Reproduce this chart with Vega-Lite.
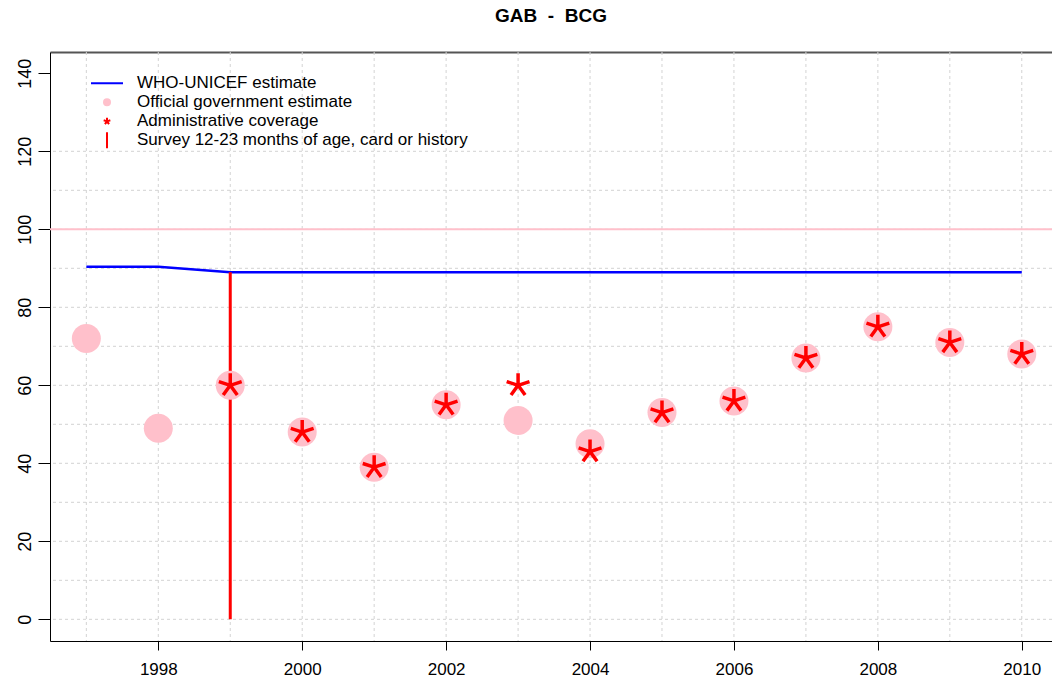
{
  "$schema": "https://vega.github.io/schema/vega-lite/v6.json",
  "width": 1002,
  "height": 589,
  "autosize": {"type": "none"},
  "padding": {"left": 50, "top": 52, "right": 0, "bottom": 39},
  "background": "white",
  "title": {"text": "GAB\u00a0\u00a0-\u00a0\u00a0BCG", "font": "Liberation Sans", "fontSize": 19, "fontWeight": "bold", "color": "black", "anchor": "middle", "frame": "group", "baseline": "alphabetic", "offset": 11},
  "config": {"view": {"stroke": null}, "font": "Liberation Sans"},
  "resolve": {"axis": {"x": "independent", "y": "independent"}},
  "datasets": {
    "xgrid": [{"year": 1997}, {"year": 1998}, {"year": 1999}, {"year": 2000}, {"year": 2001}, {"year": 2002}, {"year": 2003}, {"year": 2004}, {"year": 2005}, {"year": 2006}, {"year": 2007}, {"year": 2008}, {"year": 2009}, {"year": 2010}],
    "ygrid": [{"value": 0}, {"value": 10}, {"value": 20}, {"value": 30}, {"value": 40}, {"value": 50}, {"value": 60}, {"value": 70}, {"value": 80}, {"value": 90}, {"value": 100}, {"value": 110}, {"value": 120}],
    "who": [{"year": 1997, "value": 90.4}, {"year": 1998, "value": 90.4}, {"year": 1999, "value": 89}, {"year": 2000, "value": 89}, {"year": 2001, "value": 89}, {"year": 2002, "value": 89}, {"year": 2003, "value": 89}, {"year": 2004, "value": 89}, {"year": 2005, "value": 89}, {"year": 2006, "value": 89}, {"year": 2007, "value": 89}, {"year": 2008, "value": 89}, {"year": 2009, "value": 89}, {"year": 2010, "value": 89}],
    "official": [{"year": 1997, "value": 72}, {"year": 1998, "value": 49}, {"year": 1999, "value": 60}, {"year": 2000, "value": 48}, {"year": 2001, "value": 39}, {"year": 2002, "value": 55}, {"year": 2003, "value": 51}, {"year": 2004, "value": 45}, {"year": 2005, "value": 53}, {"year": 2006, "value": 56}, {"year": 2007, "value": 67}, {"year": 2008, "value": 75}, {"year": 2009, "value": 71}, {"year": 2010, "value": 68}],
    "admin": [{"year": 1999, "value": 60}, {"year": 2000, "value": 48}, {"year": 2001, "value": 39}, {"year": 2002, "value": 55}, {"year": 2003, "value": 60}, {"year": 2004, "value": 43}, {"year": 2005, "value": 53}, {"year": 2006, "value": 56}, {"year": 2007, "value": 67}, {"year": 2008, "value": 75}, {"year": 2009, "value": 71}, {"year": 2010, "value": 68}],
    "survey": [{"year": 1999, "low": 0, "high": 89}],
    "ref": [{"value": 100}]
  },
  "layer": [
    {
      "data": {"name": "who"},
      "mark": {"type": "line", "color": "#0000FF", "strokeWidth": 2.5, "opacity": 0},
      "encoding": {
        "x": {"field": "year", "type": "quantitative", "scale": {"domain": [1996.495, 2010.42], "nice": false, "zero": false},
          "axis": {"orient": "bottom", "title": null, "values": [1998, 2000, 2002, 2004, 2006, 2008, 2010], "format": "d", "grid": false, "domainColor": "black", "domainWidth": 1, "tickColor": "black", "tickSize": 9, "tickWidth": 1, "labelFont": "Liberation Sans", "labelFontSize": 17, "labelColor": "black", "labelPadding": 11, "labelFlush": false, "labelOverlap": false}},
        "y": {"field": "value", "type": "quantitative", "scale": {"domain": [-5.56, 145.46], "nice": false, "zero": false},
          "axis": {"orient": "left", "title": null, "values": [0, 20, 40, 60, 80, 100, 120, 140], "format": "d", "grid": false, "domainColor": "black", "domainWidth": 1, "tickColor": "black", "tickSize": 12, "tickWidth": 1, "labelFont": "Liberation Sans", "labelFontSize": 18, "labelColor": "black", "labelAngle": 270, "labelAlign": "center", "labelBaseline": "alphabetic", "labelPadding": 8, "labelFlush": false, "labelOverlap": false}}
      }
    },
    {
      "data": {"name": "xgrid"},
      "mark": {"type": "rule", "color": "#D3D3D3", "strokeWidth": 1, "strokeDash": [3, 3]},
      "encoding": {
        "x": {"field": "year", "type": "quantitative", "axis": null}
      }
    },
    {
      "data": {"name": "ygrid"},
      "mark": {"type": "rule", "color": "#D3D3D3", "strokeWidth": 1, "strokeDash": [3, 3]},
      "encoding": {
        "y": {"field": "value", "type": "quantitative", "axis": null}
      }
    },
    {
      "data": {"name": "ref"},
      "mark": {"type": "rule", "color": "#FFC0CB", "strokeWidth": 2},
      "encoding": {
        "y": {"field": "value", "type": "quantitative", "axis": null}
      }
    },
    {
      "data": {"name": "who"},
      "mark": {"type": "line", "color": "#0000FF", "strokeWidth": 2.5},
      "encoding": {
        "x": {"field": "year", "type": "quantitative",
          "axis": {"orient": "top", "title": null, "labels": false, "ticks": false, "grid": false, "domainColor": "#555555", "domainWidth": 2}},
        "y": {"field": "value", "type": "quantitative", "axis": null}
      }
    },
    {
      "data": {"name": "survey"},
      "mark": {"type": "rule", "color": "#FF0000", "strokeWidth": 3},
      "encoding": {
        "x": {"field": "year", "type": "quantitative", "axis": null},
        "y": {"field": "low", "type": "quantitative", "axis": null},
        "y2": {"field": "high"}
      }
    },
    {
      "data": {"name": "official"},
      "mark": {"type": "point", "shape": "circle", "filled": true, "color": "#FFC0CB", "opacity": 1, "size": 841},
      "encoding": {
        "x": {"field": "year", "type": "quantitative", "axis": null},
        "y": {"field": "value", "type": "quantitative", "axis": null}
      }
    },
    {
      "data": {"name": "admin"},
      "mark": {"type": "point", "shape": "M0,0L0,-1M0,0L0.951,-0.309M0,0L-0.951,-0.309M0,0L0.588,0.809M0,0L-0.588,0.809", "filled": false, "stroke": "#FF0000", "strokeWidth": 3.5, "opacity": 1, "size": 576},
      "encoding": {
        "x": {"field": "year", "type": "quantitative", "axis": null},
        "y": {"field": "value", "type": "quantitative", "axis": null}
      }
    },
    {
      "data": {"values": []},
      "mark": {"type": "point", "filled": true, "opacity": 1, "strokeWidth": 2},
      "encoding": {
        "x": {"field": "year", "type": "quantitative", "axis": null},
        "y": {"field": "value", "type": "quantitative", "axis": null},
        "shape": {"field": "series", "type": "nominal",
          "scale": {"domain": ["WHO-UNICEF estimate", "Official government estimate", "Administrative coverage", "Survey 12-23 months of age, card or history"],
            "range": ["stroke", "circle", "M0,0L0,-1M0,0L0.951,-0.309M0,0L-0.951,-0.309M0,0L0.588,0.809M0,0L-0.588,0.809", "M0,-1L0,1"]},
          "legend": {"orient": "none", "legendX": 40, "legendY": 22, "padding": 0, "title": null, "labelFont": "Liberation Sans", "labelFontSize": 17, "labelColor": "black", "labelLimit": 600, "labelOffset": 13, "clipHeight": 18.7, "rowPadding": 0, "symbolStrokeWidth": 2, "symbolOpacity": 1}},
        "fill": {"field": "series", "type": "nominal",
          "scale": {"domain": ["WHO-UNICEF estimate", "Official government estimate", "Administrative coverage", "Survey 12-23 months of age, card or history"],
            "range": ["transparent", "#FFC0CB", "transparent", "transparent"]},
          "legend": {"orient": "none", "legendX": 40, "legendY": 22, "padding": 0, "title": null, "labelFont": "Liberation Sans", "labelFontSize": 17, "labelColor": "black", "labelLimit": 600, "labelOffset": 13, "clipHeight": 18.7, "rowPadding": 0, "symbolStrokeWidth": 2, "symbolOpacity": 1}},
        "stroke": {"field": "series", "type": "nominal",
          "scale": {"domain": ["WHO-UNICEF estimate", "Official government estimate", "Administrative coverage", "Survey 12-23 months of age, card or history"],
            "range": ["#0000FF", "#FFC0CB", "#FF0000", "#FF0000"]},
          "legend": {"orient": "none", "legendX": 40, "legendY": 22, "padding": 0, "title": null, "labelFont": "Liberation Sans", "labelFontSize": 17, "labelColor": "black", "labelLimit": 600, "labelOffset": 13, "clipHeight": 18.7, "rowPadding": 0, "symbolStrokeWidth": 2, "symbolOpacity": 1}},
        "size": {"field": "series", "type": "nominal",
          "scale": {"type": "ordinal", "domain": ["WHO-UNICEF estimate", "Official government estimate", "Administrative coverage", "Survey 12-23 months of age, card or history"],
            "range": [1024, 36, 49, 256]},
          "legend": {"orient": "none", "legendX": 40, "legendY": 22, "padding": 0, "title": null, "labelFont": "Liberation Sans", "labelFontSize": 17, "labelColor": "black", "labelLimit": 600, "labelOffset": 13, "clipHeight": 18.7, "rowPadding": 0, "symbolStrokeWidth": 2, "symbolOpacity": 1}}
      }
    }
  ]
}
